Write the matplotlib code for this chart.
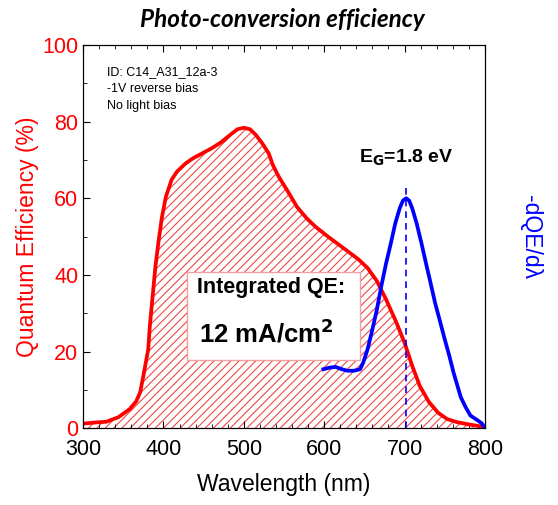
import numpy as np
import matplotlib.pyplot as plt
from matplotlib.ticker import MultipleLocator

plt.rcParams['font.family'] = ['Liberation Sans', 'DejaVu Sans']
plt.rcParams['hatch.linewidth'] = 0.8

# quantum efficiency (%)
wl_qe = [300, 315, 329, 344, 358, 366, 371, 375, 381, 383, 386.5, 390, 394, 398,
         403, 410, 417, 427, 436.5, 448, 459.6, 471, 482.7, 492, 500, 507.7, 515,
         523, 531, 536, 543.5, 555, 566, 578, 589, 604.6, 624, 643, 654, 665.6,
         677, 689, 700, 709.5, 719, 730.5, 742, 753, 765, 780, 800]
qe = [1.2, 1.5, 1.7, 2.9, 5.0, 7.0, 9.4, 13.7, 20.6, 26.7, 34.5, 42.3, 49, 55,
      60.4, 64.8, 67, 69, 70.4, 71.7, 73, 74.5, 76.5, 78, 78.4, 78, 76.5,
      74.3, 71.7, 68.7, 65.6, 61.7, 57.8, 54.8, 52.6, 50, 47, 44, 41.8, 38.4,
      33.6, 28, 22.3, 16.3, 11, 6.8, 4, 2.4, 1.6, 1.0, 0.3]

# -dQE/dlambda, arbitrary units
wl_d = [599, 606.5, 614, 622, 629, 637, 644.7, 648.5, 654, 660, 665.6, 671, 677,
        683, 688.5, 694, 698, 702, 705.7, 709.5, 715, 721, 726.7, 732.4, 738,
        744, 750, 755.7, 761, 770, 776, 782, 790, 796, 800]
dqe = [15.4, 15.8, 16.0, 15.4, 15.0, 15.0, 15.4, 17.1, 20.6, 25.8, 31, 37, 43,
       48.3, 53.5, 57.4, 59.4, 60, 59.4, 57.4, 53.5, 48.3, 43, 37.9, 32.7,
       28, 23.2, 18.9, 14.5, 8.1, 5.5, 3.3, 2.2, 1.3, 0.0]

eg_wl = 702

fig = plt.figure(figsize=(5.58, 5.05), dpi=100)
ax = fig.add_axes([0.149, 0.152, 0.72, 0.759])

ax.fill_between(wl_qe, qe, 0, facecolor='white', edgecolor='#f04848',
                hatch='////', linewidth=0)
ax.plot(wl_qe, qe, color='#ff0000', lw=2.7, solid_joinstyle='round')

ax.set_xlim(300, 800)
ax.set_ylim(0, 100)
ax.xaxis.set_major_locator(MultipleLocator(100))
ax.xaxis.set_minor_locator(MultipleLocator(20))
ax.yaxis.set_major_locator(MultipleLocator(20))
ax.yaxis.set_minor_locator(MultipleLocator(10))
ax.tick_params(which='both', direction='in', top=True, right=False)
ax.tick_params(which='major', length=5, labelsize=15.5)
ax.tick_params(which='minor', length=3)
ax.tick_params(axis='x', pad=8)
ax.tick_params(axis='y', labelcolor='#ff0000')
ax.set_xlabel('Wavelength (nm)', fontsize=16.5, labelpad=9)
ax.set_ylabel('Quantum Efficiency (%)', fontsize=16.5, color='#ff0000', labelpad=2)

ax2 = ax.twinx()
ax2.set_ylim(0, 100)
ax2.plot(wl_d, dqe, color='#0000ff', lw=2.7, solid_joinstyle='round')
ax2.set_yticks([])
ax2.set_ylabel('-dQE/d\u03bb', fontsize=16.5, color='#0000ff', rotation=270, labelpad=41)
ax2.vlines(eg_wl, 0, 64, colors='#0000ff', linestyles=(0, (4, 3)), lw=1.2)

ax.text(0.06, 0.945, 'ID: C14_A31_12a-3\n-1V reverse bias\nNo light bias',
        transform=ax.transAxes, fontsize=9, va='top', linespacing=1.55)
ax.text(eg_wl, 68, r'E$_\mathbf{G}$=1.8 eV', ha='center', va='bottom',
        fontsize=14, fontweight='bold')

ax.text(534, 36.8, 'Integrated QE:', ha='center', va='center',
        fontsize=15.5, fontweight='bold', zorder=5)
ax.text(528, 24.8, r'12 mA/cm$^\mathbf{2}$', ha='center', va='center',
        fontsize=18.5, fontweight='bold', zorder=5)
ax.add_patch(plt.Rectangle((429, 17.8), 216, 23, facecolor='white',
                           edgecolor='#f4a0a0', lw=1, zorder=4))

fig.text(0.506, 0.962, 'Photo-conversion efficiency', ha='center', va='center',
         fontsize=17.5, fontweight='bold', style='italic', family=['Lato', 'DejaVu Sans'])

fig.savefig('out.png', dpi=100)
